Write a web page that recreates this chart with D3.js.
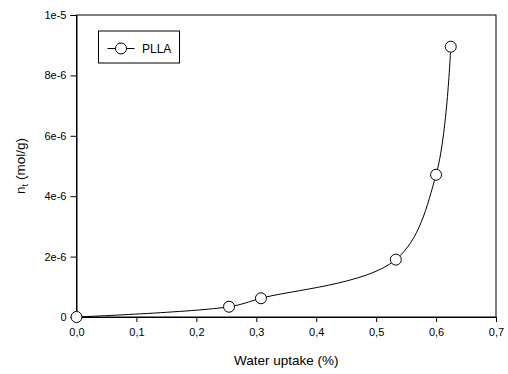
<!DOCTYPE html>
<html><head><meta charset="utf-8">
<script src="https://cdn.jsdelivr.net/npm/d3@7"></script>
<style>body{margin:0;background:#fff}svg{display:block;font-family:"Liberation Sans",Arial,sans-serif}</style>
</head><body><svg id="c" width="508" height="374"></svg>
<script>
const seriesName = "PLLA";
const waterUptake = [0, 0.2545, 0.3078, 0.5328, 0.600, 0.6245];
const nt = [0, 0.34e-6, 0.62e-6, 1.90e-6, 4.71e-6, 8.95e-6];
const xTicks = [0, 0.1, 0.2, 0.3, 0.4, 0.5, 0.6, 0.7];
const yTicks = [0, 2e-6, 4e-6, 6e-6, 8e-6, 1e-5];
const yTickLabels = ["0", "2e-6", "4e-6", "6e-6", "8e-6", "1e-5"];

const svg = d3.select("#c");
const L = 76.5, R = 496, T = 15, B = 317;
const x = d3.scaleLinear().domain([0, 0.7]).range([L, R]);
const y = d3.scaleLinear().domain([0, 1e-5]).range([B, T]);

// frame
svg.append("rect").attr("x", L).attr("y", T).attr("width", R - L).attr("height", B - T)
  .attr("fill", "none").attr("stroke", "#000").attr("stroke-width", 1);

const xa = svg.append("g").attr("transform", `translate(0,${B})`)
  .call(d3.axisBottom(x).tickValues(xTicks).tickSize(5).tickPadding(6)
    .tickFormat(d => d3.format(".1f")(d).replace(".", ",")));
const ya = svg.append("g").attr("transform", `translate(${L},0)`)
  .call(d3.axisLeft(y).tickValues(yTicks).tickSize(6).tickPadding(4)
    .tickFormat((d, i) => yTickLabels[i]));
[xa, ya].forEach(a => {
  a.select(".domain").attr("stroke", "#000");
  a.selectAll("text").attr("font-size", "11px").attr("fill", "#000")
    .attr("font-family", "Liberation Sans, Arial, sans-serif");
});

const pts = waterUptake.map((v, i) => [v, nt[i]]);
svg.append("path").datum(pts)
  .attr("d", d3.line().x(d => x(d[0])).y(d => y(d[1])).curve(d3.curveCatmullRom.alpha(0.5)))
  .attr("fill", "none").attr("stroke", "#000").attr("stroke-width", 1);
svg.append("g").selectAll("circle").data(pts).join("circle")
  .attr("cx", d => x(d[0])).attr("cy", d => y(d[1])).attr("r", 5.5)
  .attr("fill", "#fff").attr("stroke", "#000").attr("stroke-width", 1);

// titles
svg.append("text").attr("x", (L + R) / 2).attr("y", 365).attr("text-anchor", "middle")
  .attr("font-size", "13.5px").text("Water uptake (%)");
const yt = svg.append("text").attr("transform", `translate(25,${(T + B) / 2}) rotate(-90)`)
  .attr("text-anchor", "middle").attr("font-size", "13.5px");
yt.append("tspan").text("n");
yt.append("tspan").attr("font-size", "9px").attr("dy", 3).text("t");
yt.append("tspan").attr("dy", -3).text(" (mol/g)");

// legend
const lg = svg.append("g");
lg.append("rect").attr("x", 98.5).attr("y", 31).attr("width", 81).attr("height", 32)
  .attr("fill", "#fff").attr("stroke", "#000");
lg.append("line").attr("x1", 107.5).attr("x2", 134.5).attr("y1", 48.5).attr("y2", 48.5).attr("stroke", "#000");
lg.append("circle").attr("cx", 121).attr("cy", 48.5).attr("r", 5.5).attr("fill", "#fff").attr("stroke", "#000");
lg.append("text").attr("x", 142).attr("y", 53).attr("font-size", "12px").text(seriesName);
</script></body></html>
